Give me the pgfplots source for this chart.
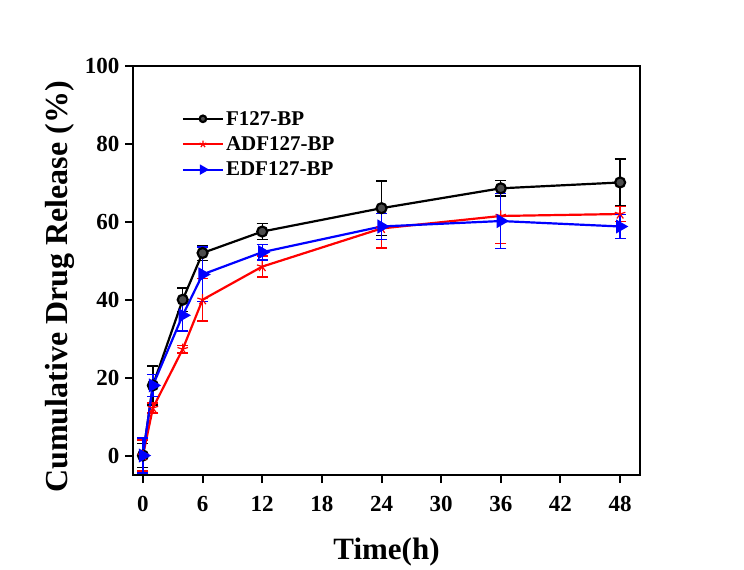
\documentclass[border=0pt]{standalone}
\usepackage{fontspec}
\setmainfont{Liberation Serif}
\usepackage{pgfplots}
\pgfplotsset{compat=1.18}
\usetikzlibrary{plotmarks}

% time, value and error of each series
\pgfplotstableread{
t    f     fe   a     ae   e     ee
0    0     3    0     4    0     4.5
1    18    5    12.2  1.3  18    2.8
4    40    3    27.3  1    36    4
6    52    2    40    5.5  46.5  7
12   57.5  2    48.5  2.7  52.2  2
24   63.5  7    58.3  5    58.8  3.3
36   68.6  2    61.5  7    60.2  7
48   70.1  6    62    2    58.8  3
}\drug

\begin{document}
\begin{tikzpicture}
\path[use as bounding box] (0,0) rectangle (744pt,570pt);
\begin{axis}[
  at={(133pt,95pt)}, anchor=south west,
  scale only axis, width=507pt, height=409pt,
  xmin=-1, xmax=50, ymin=-5, ymax=100,
  xtick={0,6,...,48}, ytick={0,20,...,100},
  xtick pos=left, ytick pos=left, tick align=outside,
  major tick length=8pt,
  axis line style={line width=2.2pt},
  every tick/.style={line width=2pt, black},
  /pgf/number format/assume math mode=true,
  ticklabel style={font=\fontsize{23}{26}\selectfont\bfseries},
  xticklabel style={yshift=-10pt},
  yticklabel style={xshift=-2pt},
  xlabel={Time(h)},
  ylabel={Cumulative Drug Release (\%)},
  xlabel style={font=\fontsize{31}{34}\selectfont\bfseries, yshift=-19pt},
  ylabel style={font=\fontsize{32}{35}\selectfont\bfseries,
    at={(ticklabel cs:0.46)}, yshift=4pt},
  legend style={draw=none, fill=none, at={(0.09,0.9)}, anchor=north west,
    font=\fontsize{21}{23}\selectfont\bfseries, row sep=6pt},
  legend cell align=left,
  legend image code/.code={\draw[mark repeat=2,mark phase=2,#1,
      every mark/.append style={scale=0.65}]
    plot coordinates {(0pt,0pt) (20pt,0pt) (40pt,0pt)};},
  error bars/y dir=both, error bars/y explicit,
  error bars/error bar style={line width=1.3pt},
  error bars/error mark options={rotate=90, mark size=5.5pt, line width=1.3pt},
]
\addplot[black, line width=2.2pt, mark=*, mark size=5pt,
  mark options={fill=black!70, draw=black}]
  table[x=t, y=f, y error=fe] {\drug};
\addlegendentry{F127-BP}
\addplot[red, line width=2.2pt, mark=star, mark size=5.5pt,
  mark options={line width=1.2pt}]
  table[x=t, y=a, y error=ae] {\drug};
\addlegendentry{ADF127-BP}
\addplot[blue, line width=2.2pt, mark=triangle*, mark size=6pt,
  mark options={rotate=-90}]
  table[x=t, y=e, y error=ee] {\drug};
\addlegendentry{EDF127-BP}
\end{axis}
\end{tikzpicture}
\end{document}
